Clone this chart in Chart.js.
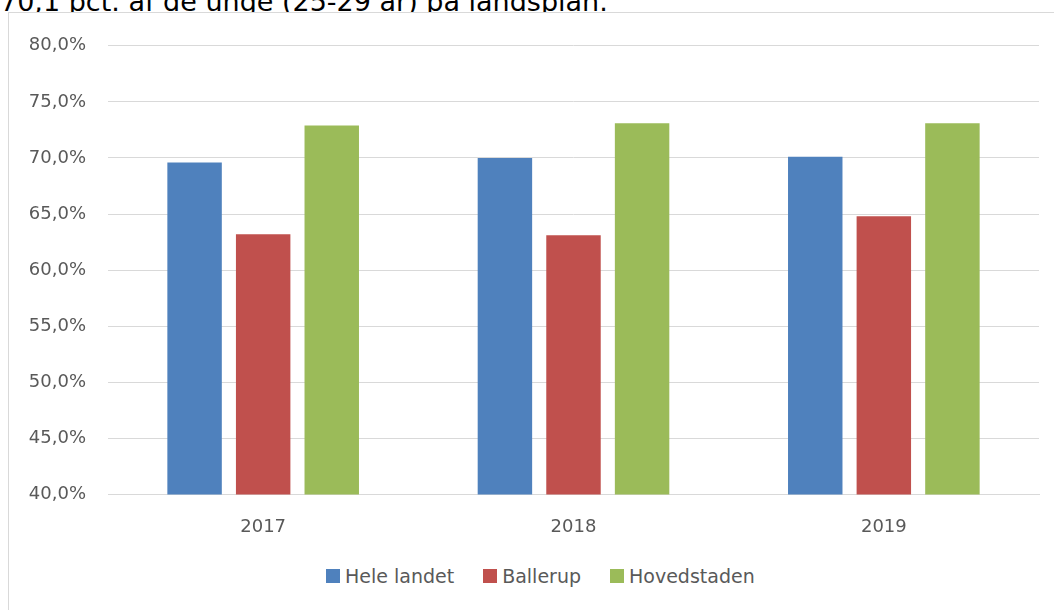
<!DOCTYPE html>
<html lang="da">
<head>
<meta charset="utf-8">
<script src="https://cdn.jsdelivr.net/npm/chart.js@4"></script>
<style>
    html, body { margin: 0; padding: 0; background: #fff; overflow: hidden; }
    body { width: 1054px; height: 610px; position: relative; font-family: "DejaVu Sans", Verdana, sans-serif; }
    #intro { position: absolute; left: 0; top: -14px; font-size: 27px; color: #000; white-space: nowrap; }
    #frame { position: absolute; left: 8px; top: 12px; width: 1060px; height: 620px; border: 1px solid #d9d9d9; background: #fff; }
    #wrap { position: absolute; left: 0; top: 0; width: 1046px; height: 539px; }
    #legend { position: absolute; left: 317px; top: 552px; display: flex; align-items: center; color: #595959; font-size: 19px; line-height: 22px; }
    .item { display: flex; align-items: center; margin-right: 29px; }
    .box { width: 14px; height: 14px; margin-right: 5px; }
</style>
</head>
<body>
<div id="intro">70,1 pct. af de unge (25-29 år) på landsplan.</div>
<div id="frame">
    <div id="wrap"><canvas id="chart"></canvas></div>
    <div id="legend"></div>
</div>
<script>
// ── Data ─────────────────────────────────────────────────────
const years = ['2017', '2018', '2019'];
const heleLandet = [69.6, 70.0, 70.1];
const ballerup = [63.2, 63.1, 64.8];
const hovedstaden = [72.9, 73.1, 73.1];
const yTicks = [40, 45, 50, 55, 60, 65, 70, 75, 80];

const textColor = '#595959';
const gridColor = '#d9d9d9';
const fontFamily = '"DejaVu Sans", Verdana, sans-serif';

const fmt = v => v.toFixed(1).replace('.', ',') + '%';

function series(label, data, color) {
    return {
        label,
        data,
        backgroundColor: color,
        borderWidth: 0,
        categoryPercentage: 0.663,
        barPercentage: 0.794,
    };
}

// ── Chart ────────────────────────────────────────────────────
const chart = new Chart(document.getElementById('chart'), {
    type: 'bar',
    data: {
        labels: years,
        datasets: [
            series('Hele landet', heleLandet, '#4f81bd'),
            series('Ballerup', ballerup, '#c0504d'),
            series('Hovedstaden', hovedstaden, '#9bbb59'),
        ],
    },
    options: {
        responsive: true,
        maintainAspectRatio: false,
        animation: false,
        layout: { padding: { top: 23, right: 16, left: 0, bottom: 0 } },
        plugins: {
            tooltip: { enabled: false },
            legend: { display: false },
        },
        scales: {
            x: {
                grid: { display: false },
                border: { color: gridColor, width: 1 },
                ticks: {
                    color: textColor,
                    padding: 14,
                    font: { size: 18, family: fontFamily },
                },
            },
            y: {
                min: 40,
                max: 80,
                afterFit: s => { s.width = 99; },
                afterBuildTicks: s => { s.ticks = yTicks.map(v => ({ value: v })); },
                grid: { color: gridColor, lineWidth: 1, drawTicks: false },
                border: { display: false },
                ticks: {
                    color: textColor,
                    padding: 22,
                    callback: v => fmt(v),
                    font: { size: 18, family: fontFamily },
                },
            },
        },
    },
});

// ── Legend (HTML, from the datasets) ─────────────────────────
const legendEl = document.getElementById('legend');
chart.data.datasets.forEach(ds => {
    const item = document.createElement('div');
    item.className = 'item';
    item.innerHTML = `<span class="box" style="background:${ds.backgroundColor}"></span><span>${ds.label}</span>`;
    legendEl.appendChild(item);
});
</script>
</body>
</html>
